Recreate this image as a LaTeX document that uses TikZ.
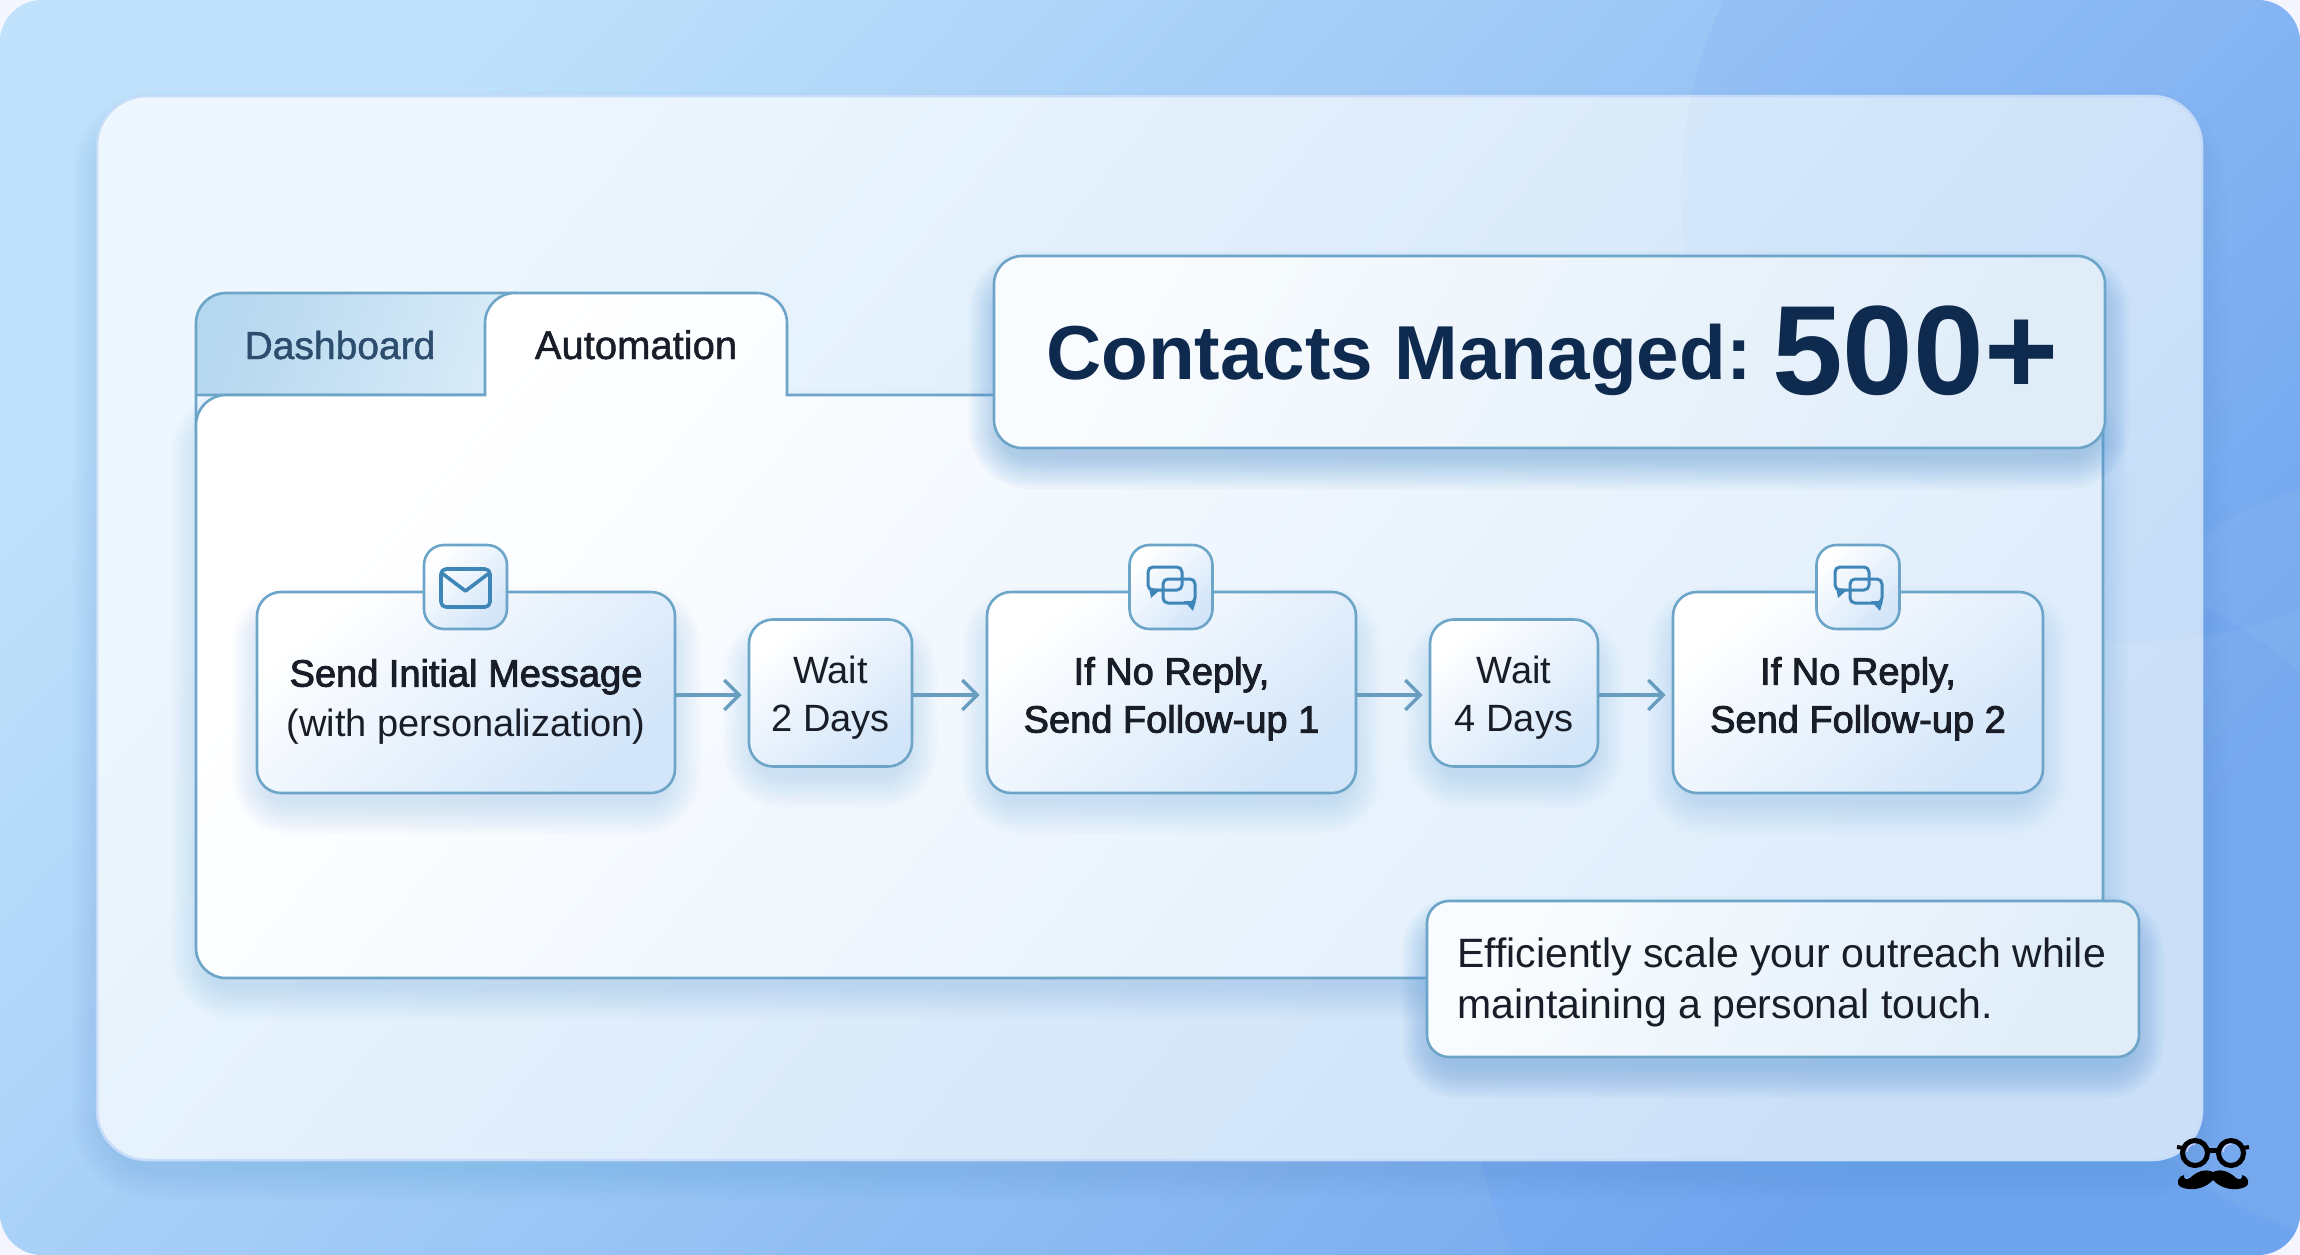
\documentclass[tikz,border=0pt]{standalone}
\usepackage{fontspec}
\setmainfont{Liberation Sans}
\newfontfamily\medfont{Liberation Sans}[FakeBold=1.2]
\newfontfamily\semifont{Liberation Sans}[FakeBold=2.4]
\usetikzlibrary{arrows.meta,calc,positioning}
\definecolor{edgeblue}{HTML}{6DA5C9}
\definecolor{inkdark}{HTML}{181D27}
\definecolor{navy}{HTML}{0F2A4F}
\definecolor{tabink}{HTML}{2D4D6E}
\definecolor{iconblue}{HTML}{3F86B8}
\definecolor{shadowblue}{HTML}{5F9FE6}
\definecolor{boxend}{HTML}{D2E5F9}
\definecolor{bgA}{HTML}{BFE1FB}
\definecolor{bgB}{HTML}{74A8EE}
\definecolor{cardA}{HTML}{EEF7FD}
\definecolor{cardB}{HTML}{CBE0F8}
\definecolor{tabA}{HTML}{B5D7EF}
\definecolor{tabB}{HTML}{DAECF8}
\definecolor{panelB}{HTML}{DFEDFB}
\definecolor{bannerA}{HTML}{F9FCFE}
\definecolor{bannerB}{HTML}{E0EDF9}
\tikzset{
  x=1pt,y=-1pt,
  softshadow/.style={fill=shadowblue,draw=none,opacity=0.022},
  stepbox/.style={draw=edgeblue,line width=2.6pt,rounded corners=24pt,inner sep=0pt,align=center,
    font=\fontsize{38}{48}\selectfont,text=inkdark,
    left color=white,right color=boxend,shading angle=40},
  iconbox/.style={draw=edgeblue,line width=2.6pt,rounded corners=20pt,inner sep=0pt,
    minimum width=83pt,minimum height=84pt,left color=white,right color=boxend,shading angle=45},
  link/.style={draw=edgeblue!95!black,line width=3.6pt,-{Straight Barb[length=15pt,width=30pt,line width=3.4pt]},shorten >=6pt},
  icstroke/.style={draw=iconblue,line width=3pt,line join=round,line cap=round},
}
\newcommand{\softrect}[5]{% x0 y0 x1 y1 radius
  \foreach \g in {33,30,27,24,21,18,15,12,9,6,3}{
    \fill[softshadow,rounded corners={#5+\g pt}] ({#1-\g+8},{#2-\g+28}) rectangle ({#3+\g-8},{#4+\g+8});
  }}
\begin{document}
\begin{tikzpicture}
\useasboundingbox (0,0) rectangle (2300,1255);
\fill[white!96!blue] (0,0) rectangle (2300,1255);
% background
\begin{scope}
  \path[clip,rounded corners=42pt] (0,0) rectangle (2300,1255);
  \shade[left color=bgA,right color=bgB,shading angle=46] (0,0) rectangle (2300,1255);
  \fill[blue!70!cyan,opacity=0.035] (2131,192) circle (450);
  \fill[blue!70!cyan,opacity=0.04] (1968,1047) circle (500);
  \fill[white,opacity=0.05] (2420,860) circle (390);
\end{scope}
% card
\softrect{97}{96}{2202}{1160}{50}
\path[rounded corners=50pt,draw=white!60!bgB,line width=2.5pt,left color=cardA,right color=cardB,shading angle=50] (97,96) rectangle (2202,1160);
\begin{scope}
  \path[clip,rounded corners=50pt] (97,96) rectangle (2202,1160);
  \fill[blue!60!cyan,opacity=0.02] (2131,192) circle (450);
\end{scope}
% tabs and panel
\softrect{196}{395}{2103}{978}{30}
\path[draw=edgeblue,line width=2.6pt,left color=tabA,right color=tabB,shading angle=70]
  (196,430) -- (196,323) arc[start angle=180,end angle=270,radius=30] -- (515,293) -- (515,395) -- (196,395) -- cycle;
\path[draw=edgeblue,line width=2.6pt,left color=white,right color=panelB,shading angle=50]
  (196,425) arc[start angle=180,end angle=270,radius=30] -- (485,395) -- (485,323)
  arc[start angle=180,end angle=270,radius=30] -- (757,293) arc[start angle=270,end angle=360,radius=30]
  -- (787,395) -- (2103,395) -- (2103,948) arc[start angle=0,end angle=90,radius=30] -- (226,978)
  arc[start angle=90,end angle=180,radius=30] -- cycle;
\node[font=\medfont\fontsize{39}{39}\selectfont,text=tabink,anchor=base] (tabd) at (340,359) {Dashboard};
\node[font=\medfont\fontsize{40}{40}\selectfont,text=inkdark,anchor=base] (taba) at (636,359) {Automation};
% shadows of boxes
\softrect{257}{592}{675}{793}{24}
\softrect{749}{620}{912}{767}{24}
\softrect{987}{592}{1356}{793}{24}
\softrect{1430}{620}{1598}{767}{24}
\softrect{1673}{592}{2043}{793}{24}
% step boxes
\node[stepbox,minimum width=418pt,minimum height=201pt] (b1) at (466,692.5) {\rule{0pt}{46pt}{\semifont Send Initial Message}\\[2pt](with personalization)};
\node[stepbox,minimum width=163pt,minimum height=147pt] (w1) at (830.5,693) {\rule{0pt}{37pt}Wait\\2 Days};
\node[stepbox,minimum width=369pt,minimum height=201pt] (b2) at (1171.5,692.5) {\rule{0pt}{40pt}{\semifont If No Reply,}\\{\semifont Send Follow-up 1}};
\node[stepbox,minimum width=168pt,minimum height=147pt] (w2) at (1514,693) {\rule{0pt}{37pt}Wait\\4 Days};
\node[stepbox,minimum width=370pt,minimum height=201pt] (b3) at (1858,692.5) {\rule{0pt}{40pt}{\semifont If No Reply,}\\{\semifont Send Follow-up 2}};
% connectors
\draw[link] ([yshift=-2.5pt]b1.east) -- ([yshift=-2pt]w1.west);
\draw[link] ([yshift=-2pt]w1.east) -- ([yshift=-2.5pt]b2.west);
\draw[link] ([yshift=-2.5pt]b2.east) -- ([yshift=-2pt]w2.west);
\draw[link] ([yshift=-2pt]w2.east) -- ([yshift=-2.5pt]b3.west);
% icons
\node[iconbox] (i1) at (465.5,587) {};
\node[iconbox] (i2) at (1171,587) {};
\node[iconbox] (i3) at (1858,587) {};
\draw[icstroke,rounded corners=5pt,line width=3.6pt] (441,569) rectangle (490,607);
\draw[icstroke,line width=3.6pt] (443,574) -- (465.5,591) -- (488,574);
\foreach \cx in {1171,1858}{
  \begin{scope}[shift={(\cx,587)}]
    \draw[icstroke,rounded corners=5pt] (-23,-20) rectangle (11,3);
    \fill[iconblue,line join=round] (-22,1) -- (-20,11) -- (-10,2) -- cycle;
    \draw[icstroke,rounded corners=5pt] (-8,-8) rectangle (24,16);
    \fill[iconblue,line join=round] (13,14) -- (22,24) -- (25,14) -- cycle;
  \end{scope}
}
% contacts banner
\softrect{994}{256}{2105}{448}{28}
\softrect{994}{256}{2105}{448}{28}
\node[draw=edgeblue,line width=2.6pt,rounded corners=28pt,minimum width=1111pt,minimum height=192pt,inner sep=0pt,
  left color=bannerA,right color=bannerB,shading angle=60] (banner) at (1549.5,352) {};
\node[anchor=base west,inner sep=0pt,text=navy,font=\bfseries\fontsize{76.5}{77}\selectfont] (cm) at (1046,379) {Contacts Managed:};
\node[anchor=base west,inner sep=0pt,text=navy,font=\bfseries\fontsize{127}{127}\selectfont] (num) at (1772,394) {500+};
% note
\softrect{1427}{901}{2139}{1057}{22}
\softrect{1427}{901}{2139}{1057}{22}
\node[draw=edgeblue,line width=2.6pt,rounded corners=22pt,minimum width=712pt,minimum height=156pt,inner sep=0pt,
  left color=bannerA,right color=bannerB,shading angle=60] (note) at (1783,979) {};
\node[anchor=base west,inner sep=0pt,align=left,text=inkdark,font=\fontsize{41}{51}\selectfont] (notetext) at (1457,1018)
  {Efficiently scale your outreach while\\maintaining a personal touch.};
% watermark
\draw[black,line width=5pt] (2195,1153) circle (12.5) (2231,1153) circle (12.5);
\draw[black,line width=5pt] (2208,1150) -- (2218,1150);
\draw[black,line width=4pt] (2183,1148) -- (2177,1147) (2243,1148) -- (2249,1147);
\draw[white!80!blue,line width=1.4pt] (2187,1152) arc[start angle=180,end angle=270,radius=8];
\draw[white!80!blue,line width=1.4pt] (2223,1152) arc[start angle=180,end angle=270,radius=8];
\fill[black] (2213,1172) .. controls (2205,1168) and (2196,1172) .. (2190,1178)
  .. controls (2186,1181) and (2183,1178) .. (2184,1175)
  .. controls (2178,1176) and (2175,1184) .. (2181,1187)
  .. controls (2192,1192) and (2206,1188) .. (2213,1180)
  .. controls (2220,1188) and (2234,1192) .. (2245,1187)
  .. controls (2251,1184) and (2248,1176) .. (2242,1175)
  .. controls (2243,1178) and (2240,1181) .. (2236,1178)
  .. controls (2230,1172) and (2221,1168) .. (2213,1172) -- cycle;
\end{tikzpicture}
\end{document}
